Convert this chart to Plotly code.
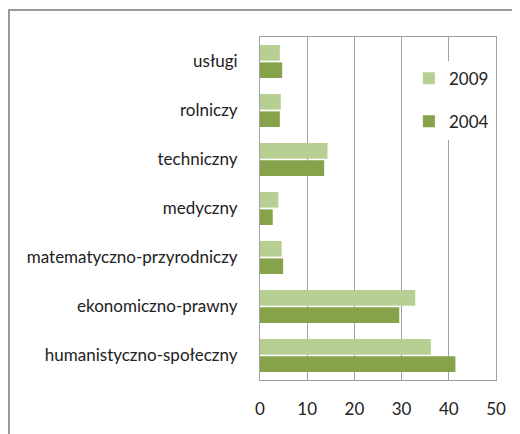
import plotly.graph_objects as go

categories = ["humanistyczno-społeczny", "ekonomiczno-prawny", "matematyczno-przyrodniczy",
              "medyczny", "techniczny", "rolniczy", "usługi"]
values_2009 = [36.2, 32.9, 4.6, 3.9, 14.3, 4.4, 4.2]
values_2004 = [41.4, 29.5, 4.9, 2.7, 13.6, 4.2, 4.7]
x_ticks = [0, 10, 20, 30, 40, 50]

FONT = "Lato, Open Sans, sans-serif"

fig = go.Figure()
fig.add_trace(go.Bar(y=categories, x=values_2004, orientation="h", name="2004",
                     legendgroup="b", legendrank=2,
                     marker=dict(color="#86a24a", line=dict(width=0))))
fig.add_trace(go.Bar(y=categories, x=values_2009, orientation="h", name="2009",
                     legendgroup="a", legendrank=1,
                     marker=dict(color="#b8cf93", line=dict(width=0))))

# page body has an 8px margin, so figure coords are shifted by 8px
fig.update_layout(
    width=520, height=434,
    margin=dict(l=252, r=32, t=29, b=62),
    paper_bgcolor="white", plot_bgcolor="white",
    barmode="group", bargap=0.29, bargroupgap=0.1,
    font=dict(family=FONT, size=17, color="#222222"),
    showlegend=True,
    legend=dict(x=0.631, y=0.931, xanchor="left", yanchor="top",
                bgcolor="white", traceorder="grouped", tracegroupgap=18,
                font=dict(size=17, family=FONT), itemwidth=30),
    xaxis=dict(range=[0, 50], tickvals=x_ticks, showgrid=True, gridcolor="#a0a0a0",
               gridwidth=1, showline=True, linecolor="#a0a0a0", mirror=True,
               zeroline=False, ticks="", ticklabelstandoff=14, automargin=False),
    yaxis=dict(categoryorder="array", categoryarray=categories, showgrid=False,
               showline=True, linecolor="#a0a0a0", mirror=True, ticks="",
               ticklabelstandoff=18, automargin=False),
    shapes=[dict(type="rect", xref="paper", yref="paper",
                 x0=-251/236, x1=1.2, y0=-0.5, y1=(380-10)/343,
                 line=dict(color="#9a9a9a", width=2))],
)

fig.write_html("out.html")
